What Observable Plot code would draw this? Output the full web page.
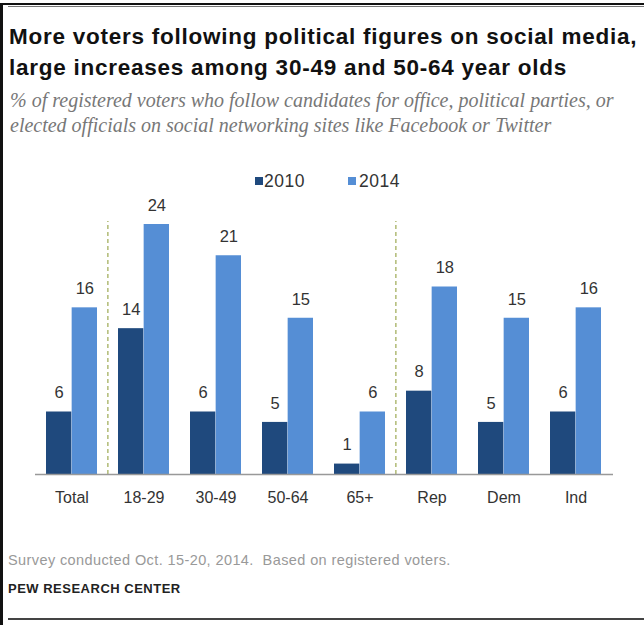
<!DOCTYPE html>
<html>
<head>
<meta charset="utf-8">
<script src="https://cdn.jsdelivr.net/npm/d3@7"></script>
<script src="https://cdn.jsdelivr.net/npm/@observablehq/plot@0.6"></script>
<style>
  html, body { margin: 0; padding: 0; background: #fff; }
  #page { position: relative; width: 644px; height: 625px; overflow: hidden; background: #fff; font-family: "Liberation Sans", Arial, sans-serif; }
  .line { position: absolute; }
  #title { position: absolute; left: 9px; top: 21px; font-weight: bold; font-size: 22.5px; letter-spacing: 0.75px; line-height: 31px; color: #111; white-space: nowrap; }
  #subtitle { position: absolute; left: 10px; top: 88px; font-family: "Liberation Serif", serif; font-style: italic; font-size: 20px; line-height: 25px; color: #777; white-space: nowrap; }
  #legend { position: absolute; top: 170px; left: 0; width: 644px; height: 22px; font-size: 17.5px; color: #333; }
  .sw { position: absolute; top: 7px; width: 8px; height: 8px; }
  .lt { position: absolute; top: 0; line-height: 22px; letter-spacing: 0.5px; }
  #chart { position: absolute; left: 0; top: 190px; }
  #note { position: absolute; left: 8px; top: 552px; font-size: 14.5px; letter-spacing: 0.4px; color: #999; white-space: nowrap; }
  #source { position: absolute; left: 8px; top: 581px; font-size: 13px; letter-spacing: 0.5px; font-weight: bold; color: #222; white-space: nowrap; }
</style>
</head>
<body>
<div id="page">
  <div class="line" style="left:0;top:3px;width:644px;height:2px;background:#111"></div>
  <div class="line" style="left:8px;top:6px;width:636px;height:1px;background:#777"></div>
  <div class="line" style="left:0;top:3px;width:3px;height:622px;background:#111"></div>
  <div class="line" style="left:8px;top:618px;width:636px;height:2px;background:#444"></div>
  <div id="title">More voters following political figures on social media,<br>large increases among 30-49 and 50-64 year olds</div>
  <div id="subtitle">% of registered voters who follow candidates for office, political parties, or<br>elected officials on social networking sites like Facebook or Twitter</div>
  <div id="legend"></div>
  <div id="chart"></div>
  <div id="note">Survey conducted Oct. 15-20, 2014.&nbsp; Based on registered voters.</div>
  <div id="source">PEW RESEARCH CENTER</div>
</div>
<script>
const categories = ["Total", "18-29", "30-49", "50-64", "65+", "Rep", "Dem", "Ind"];
const years = ["2010", "2014"];
const values2010 = [6, 14, 6, 5, 1, 8, 5, 6];
const values2014 = [16, 24, 21, 15, 6, 18, 15, 16];
const colors = ["#1f497d", "#558ed5"];
const dividers = ["18-29", "Rep"];
const yMax = 24;

const rows2010 = categories.map((c, i) => ({cat: c, year: years[0], value: values2010[i]}));
const rows2014 = categories.map((c, i) => ({cat: c, year: years[1], value: values2014[i]}));

// legend
const legend = document.getElementById("legend");
const legendPos = [{sw: 255, tx: 264}, {sw: 348, tx: 359}];
years.forEach((y, i) => {
  const s = document.createElement("div");
  s.className = "sw"; s.style.left = legendPos[i].sw + "px"; s.style.background = colors[i];
  legend.appendChild(s);
  const t = document.createElement("div");
  t.className = "lt"; t.style.left = legendPos[i].tx + "px"; t.textContent = y;
  legend.appendChild(t);
});

const width = 644, marginLeft = 35, marginRight = 31;
const paddingInner = 0.29, paddingOuter = 0.145;
const step = (width - marginLeft - marginRight) / (categories.length - paddingInner + 2 * paddingOuter);
const bw = step * (1 - paddingInner);
const half = bw / 2;

const chart = Plot.plot({
  width,
  height: 320,
  marginLeft,
  marginRight,
  marginTop: 34,
  marginBottom: 36,
  style: {fontFamily: "'Liberation Sans', Arial, sans-serif", background: "transparent"},
  x: {domain: categories, paddingInner, paddingOuter, label: null, axis: null},
  y: {domain: [0, yMax], axis: null},
  marks: [
    Plot.ruleX(dividers, {x: d => d, dx: -step / 2, y1: 0, y2: 24.3, stroke: "#a4b05f", strokeWidth: 1.3, strokeDasharray: "4,3"}),
    Plot.barY(rows2010, {x: "cat", y: "value", fill: colors[0], insetRight: half}),
    Plot.barY(rows2014, {x: "cat", y: "value", fill: colors[1], insetLeft: half}),
    Plot.text(rows2010, {x: "cat", y: "value", text: d => String(d.value), dx: -half / 2, dy: -19, fontSize: 16.5, fill: "#333"}),
    Plot.text(rows2014, {x: "cat", y: "value", text: d => String(d.value), dx: half / 2, dy: -19, fontSize: 16.5, fill: "#333"}),
    Plot.ruleY([0], {stroke: "#999", strokeWidth: 1.5}),
    Plot.axisX({tickSize: 0, tickPadding: 17, fontSize: 16, label: null, color: "#333"})
  ]
});
document.getElementById("chart").appendChild(chart);
</script>
</body>
</html>
